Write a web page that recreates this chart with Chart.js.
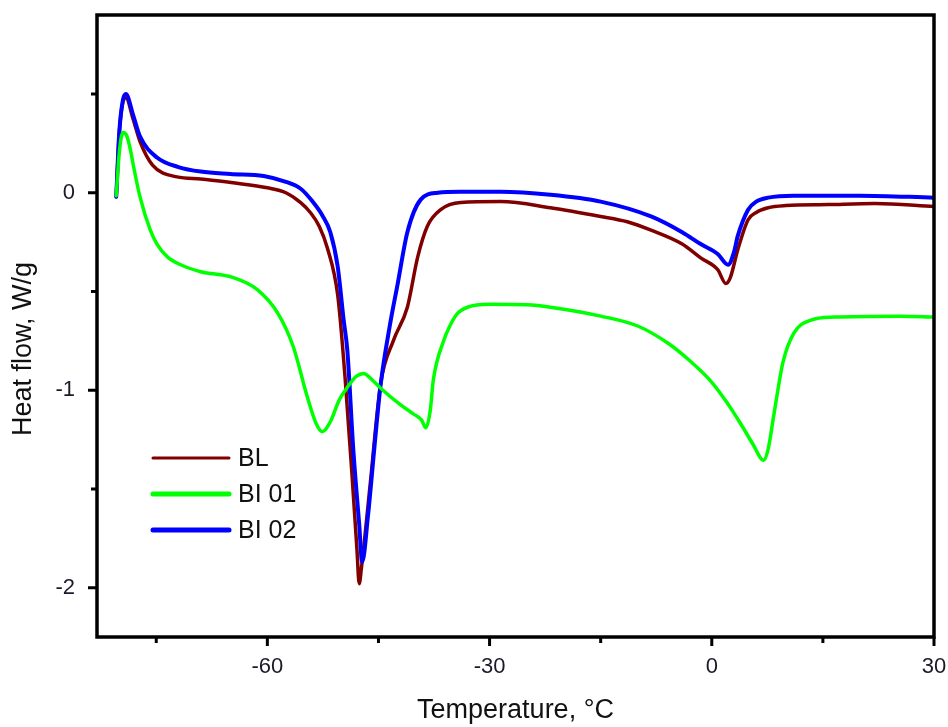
<!DOCTYPE html>
<html>
<head>
<meta charset="utf-8">
<script src="https://cdn.jsdelivr.net/npm/chart.js@4.4.0/dist/chart.umd.min.js"></script>
<style>
  html, body { margin: 0; padding: 0; background: #fff; }
</style>
</head>
<body>
<canvas id="dsc" width="948" height="727"></canvas>
<script>
// ===== Data =====
const blTemp = [-80.4, -80.0, -79.5, -79.1, -78.1, -77.2, -75.5, -72.2, -69, -64.6, -60, -57.5, -55.5, -54.2, -53, -51.9, -50.5, -49.5, -48.5, -47.9, -47.6, -47.3, -46.1, -44.7, -43, -41.1, -39.7, -38.4, -36.6, -33.9, -28.5, -21.8, -15, -11.4, -8.2, -4, -1.5, 0.8, 1.9, 2.5, 3.5, 4.9, 6, 7.6, 10, 15.7, 22, 30];
const blFlow = [-0.02, 0.30, 0.46, 0.48, 0.37, 0.26, 0.14, 0.08, 0.07, 0.05, 0.025, 0.0, -0.05, -0.10, -0.17, -0.28, -0.52, -0.94, -1.47, -1.81, -1.98, -1.9, -1.47, -0.965, -0.75, -0.58, -0.325, -0.17, -0.086, -0.05, -0.045, -0.076, -0.12, -0.147, -0.19, -0.26, -0.33, -0.39, -0.46, -0.43, -0.29, -0.137, -0.1, -0.076, -0.065, -0.06, -0.055, -0.07];

const bi01Temp = [-80.4, -80.0, -79.5, -79.0, -78.5, -78.1, -77.2, -75.8, -74.9, -73.5, -71.4, -69, -64.6, -61.4, -58.6, -56.5, -54.6, -53.4, -52.6, -51.5, -50.3, -49.2, -48, -47, -45.8, -44.7, -42, -40.3, -39.2, -38.6, -38, -37.6, -36.2, -35.3, -34.3, -33, -30, -25, -21.8, -15, -10, -6, -3, 0, 2, 3.9, 5.5, 7.0, 7.6, 8.4, 9.6, 11.1, 13.4, 16.5, 25.5, 30];
const bi01Flow = [-0.015, 0.2, 0.305, 0.29, 0.22, 0.14, -0.02, -0.19, -0.26, -0.325, -0.37, -0.40, -0.43, -0.49, -0.61, -0.78, -1.035, -1.17, -1.21, -1.16, -1.05, -0.985, -0.93, -0.915, -0.95, -0.99, -1.075, -1.12, -1.15, -1.19, -1.1, -0.95, -0.75, -0.67, -0.61, -0.58, -0.565, -0.568, -0.58, -0.625, -0.675, -0.76, -0.85, -0.96, -1.06, -1.17, -1.27, -1.355, -1.3, -1.12, -0.86, -0.71, -0.645, -0.63, -0.625, -0.63];

const bi02Temp = [-80.4, -80.0, -79.5, -79.1, -78.1, -77.2, -74.9, -72, -69, -65, -60.5, -57.5, -55.5, -54, -52.5, -51.5, -50.5, -49.7, -49.2, -48.4, -47.6, -47.2, -46.4, -45.5, -44.7, -43.5, -42.4, -41.1, -39.3, -37, -34, -28.5, -21.8, -15, -8.2, -4, -1.5, 0.8, 2.2, 3.0, 3.5, 4.9, 6, 7.6, 11, 20, 30];
const bi02Flow = [-0.02, 0.30, 0.47, 0.50, 0.39, 0.285, 0.178, 0.13, 0.107, 0.095, 0.085, 0.055, 0.02, -0.04, -0.12, -0.2, -0.375, -0.645, -0.80, -1.30, -1.68, -1.87, -1.63, -1.27, -0.97, -0.68, -0.46, -0.20, -0.035, 0, 0.005, 0.005, -0.01, -0.045, -0.12, -0.2, -0.26, -0.31, -0.365, -0.3, -0.22, -0.086, -0.045, -0.025, -0.015, -0.015, -0.025];

const seriesNames = ["BL", "BI 01", "BI 02"];
const seriesColors = ["#800000", "#00ff00", "#0000ff"];

// tick positions
const xMajor = [-60, -30, 0, 30];
const xMinor = [-75, -45, -15, 15];
const yMajor = [-2, -1, 0];
const yMinor = [-1.5, -0.5, 0.5];

const toPoints = (xs, ys) => xs.map((x, i) => ({ x: x, y: ys[i] }));

// ===== Frame, ticks, legend, y title =====
const decorPlugin = {
  id: "decor",
  afterDraw(chart) {
    const ctx = chart.ctx;
    const a = chart.chartArea;
    const xs = chart.scales.x;
    const ys = chart.scales.y;
    ctx.save();
    ctx.strokeStyle = "#000";
    ctx.lineWidth = 3.5;
    ctx.strokeRect(a.left, a.top, a.right - a.left, a.bottom - a.top);

    ctx.lineWidth = 3;
    ctx.beginPath();
    xMajor.forEach((v) => { const p = xs.getPixelForValue(v); ctx.moveTo(p, a.bottom); ctx.lineTo(p, a.bottom + 9); });
    xMinor.forEach((v) => { const p = xs.getPixelForValue(v); ctx.moveTo(p, a.bottom); ctx.lineTo(p, a.bottom + 6); });
    yMajor.forEach((v) => { const p = ys.getPixelForValue(v); ctx.moveTo(a.left, p); ctx.lineTo(a.left - 9, p); });
    yMinor.forEach((v) => { const p = ys.getPixelForValue(v); ctx.moveTo(a.left, p); ctx.lineTo(a.left - 6, p); });
    ctx.stroke();

    // legend
    const legendY = [458, 494, 530];
    const legendW = [3, 5, 5];
    ctx.lineCap = "round";
    ctx.font = "25px 'Liberation Sans', Arial, sans-serif";
    ctx.textBaseline = "middle";
    ctx.fillStyle = "#111";
    seriesNames.forEach((name, i) => {
      ctx.strokeStyle = seriesColors[i];
      ctx.lineWidth = legendW[i];
      ctx.beginPath();
      ctx.moveTo(153, legendY[i]);
      ctx.lineTo(229, legendY[i]);
      ctx.stroke();
      ctx.fillText(name, 238, legendY[i] + 1);
    });

    // y axis title
    ctx.translate(24, 349);
    ctx.rotate(-Math.PI / 2);
    ctx.textAlign = "center";
    ctx.font = "27px 'Liberation Sans', Arial, sans-serif";
    ctx.fillText("Heat flow, W/g", 0, 0);
    ctx.restore();
  },
};

const font = "'Liberation Sans', Arial, sans-serif";

new Chart(document.getElementById("dsc"), {
  type: "line",
  data: {
    datasets: [
      { label: "BL", data: toPoints(blTemp, blFlow), borderColor: seriesColors[0], borderWidth: 3.5, order: 2 },
      { label: "BI 01", data: toPoints(bi01Temp, bi01Flow), borderColor: seriesColors[1], borderWidth: 3.5, order: 0 },
      { label: "BI 02", data: toPoints(bi02Temp, bi02Flow), borderColor: seriesColors[2], borderWidth: 4, order: 1 },
    ],
  },
  options: {
    responsive: false,
    devicePixelRatio: 1,
    animation: false,
    layout: { padding: { top: 15, right: 14, left: 0, bottom: 0 } },
    elements: {
      point: { radius: 0 },
      line: { cubicInterpolationMode: "monotone", fill: false, borderCapStyle: "round", borderJoinStyle: "round" },
    },
    plugins: { legend: { display: false }, tooltip: { enabled: false } },
    scales: {
      x: {
        type: "linear",
        min: -83,
        max: 30,
        afterBuildTicks: (s) => { s.ticks = xMajor.map((v) => ({ value: v })); },
        afterFit: (s) => { s.height = 90; s.paddingLeft = 0; s.paddingRight = 0; },
        grid: { display: false, drawTicks: false },
        border: { display: false },
        ticks: { color: "#1a1a2a", font: { family: font, size: 22 }, padding: 17, maxRotation: 0, callback: (v) => String(v) },
        title: { display: true, text: "Temperature, °C", color: "#111", font: { family: font, size: 27 }, padding: { top: 0, bottom: 0 } },
      },
      y: {
        min: -2.25,
        max: 0.9,
        afterBuildTicks: (s) => { s.ticks = yMajor.map((v) => ({ value: v })); },
        afterFit: (s) => { s.width = 97; s.paddingTop = 0; s.paddingBottom = 0; },
        grid: { display: false, drawTicks: false },
        border: { display: false },
        ticks: { color: "#1a1a2a", font: { family: font, size: 22 }, padding: 22, callback: (v) => String(v) },
      },
    },
  },
  plugins: [decorPlugin],
});
</script>
</body>
</html>
